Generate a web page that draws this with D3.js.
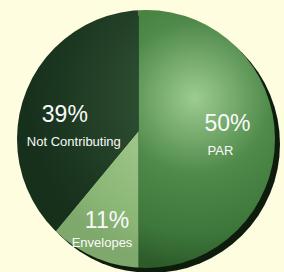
<!DOCTYPE html>
<html>
<head>
<meta charset="utf-8">
<script src="https://cdn.jsdelivr.net/npm/d3@7"></script>
<style>
  html, body { margin: 0; padding: 0; background: #fffde0; }
  svg { display: block; }
</style>
</head>
<body>
<svg id="pieChart"></svg>
<script>
const categories = ["PAR", "Envelopes", "Not Contributing"];
const shares = [50, 11, 39];
const sliceColors = [
  ["#9dcc90", "#4f8a4a", "#3d773a", "#2d5c2a"],
  ["#a9d192", "#9bc486", "#8ab676", "#7fa96c"],
  ["#3a5e3e", "#28472c", "#1c3721", "#16301b"]
];

function getChartConfig() {
  const dimensions = { width: 284, height: 272 };
  const chart = d3.select("#pieChart")
    .attr("width", dimensions.width)
    .attr("height", dimensions.height);

  return {
    dimensions,
    container: chart,
    // the pie is seen slightly in perspective: the rim circle and the
    // point where the slices meet are not the same
    rim: { cx: 146, cy: 139, r: 129 },
    apex: { x: 138.5, y: 131 },
    highlight: { x: 195, y: 98, r: 170 }
  };
}

function drawDefs(config) {
  const { apex, highlight, rim } = config;
  const defs = config.container.append("defs");

  defs.append("clipPath")
    .attr("id", "rimClip")
    .append("circle")
    .attr("cx", rim.cx)
    .attr("cy", rim.cy)
    .attr("r", rim.r);

  // gradients are used inside the group translated to the apex
  sliceColors.forEach((stops, i) => {
    const grad = defs.append("radialGradient")
      .attr("id", "slice" + i)
      .attr("gradientUnits", "userSpaceOnUse")
      .attr("cx", highlight.x - apex.x)
      .attr("cy", highlight.y - apex.y)
      .attr("r", highlight.r);
    [0, 0.45, 0.8, 1].forEach((o, j) => {
      grad.append("stop").attr("offset", o).attr("stop-color", stops[j]);
    });
  });

  defs.append("filter")
    .attr("id", "soft")
    .append("feGaussianBlur")
    .attr("stdDeviation", 0.6);
}

function drawPie(config) {
  const { container, rim, apex } = config;

  container.append("circle")
    .attr("cx", rim.cx + 5)
    .attr("cy", rim.cy + 5)
    .attr("r", rim.r)
    .attr("fill", "#0f1f0e")
    .attr("filter", "url(#soft)");

  const pie = d3.pie().sort(null).value(d => d.value);
  const data = pie(categories.map((c, i) => ({ name: c, value: shares[i], index: i })));

  const arc = d3.arc().innerRadius(0).outerRadius(260);

  container.append("g")
    .attr("clip-path", "url(#rimClip)")
    .append("g")
    .attr("transform", `translate(${apex.x},${apex.y})`)
    .selectAll("path")
    .data(data)
    .join("path")
    .attr("d", arc)
    .attr("fill", d => `url(#slice${d.data.index})`);

  return data;
}

function drawLabels(config, data) {
  const { container, apex } = config;
  const labelArc = d3.arc().innerRadius(90).outerRadius(90);
  // small nudges so the text sits where it reads best in each slice
  const nudge = {
    "PAR": { big: [-1, 0], small: [-8, 24] },
    "Envelopes": { big: [-1, 12], small: [-6, 31] },
    "Not Contributing": { big: [11, 21], small: [20, 45] }
  };

  const g = container.append("g")
    .attr("transform", `translate(${apex.x},${apex.y})`)
    .attr("fill", "#fafafa")
    .attr("font-family", "'Liberation Sans', Arial, Helvetica, sans-serif")
    .attr("text-anchor", "middle");

  data.forEach(d => {
    const [x, y] = labelArc.centroid(d);
    const n = nudge[d.data.name];
    g.append("text")
      .attr("x", x + n.big[0])
      .attr("y", y + n.big[1])
      .attr("font-size", 23)
      .text(d.data.value + "%");
    g.append("text")
      .attr("x", x + n.small[0])
      .attr("y", y + n.small[1])
      .attr("font-size", 13)
      .text(d.data.name);
  });
}

function renderPieChart() {
  const config = getChartConfig();
  drawDefs(config);
  const data = drawPie(config);
  drawLabels(config, data);
}

renderPieChart();
</script>
</body>
</html>
